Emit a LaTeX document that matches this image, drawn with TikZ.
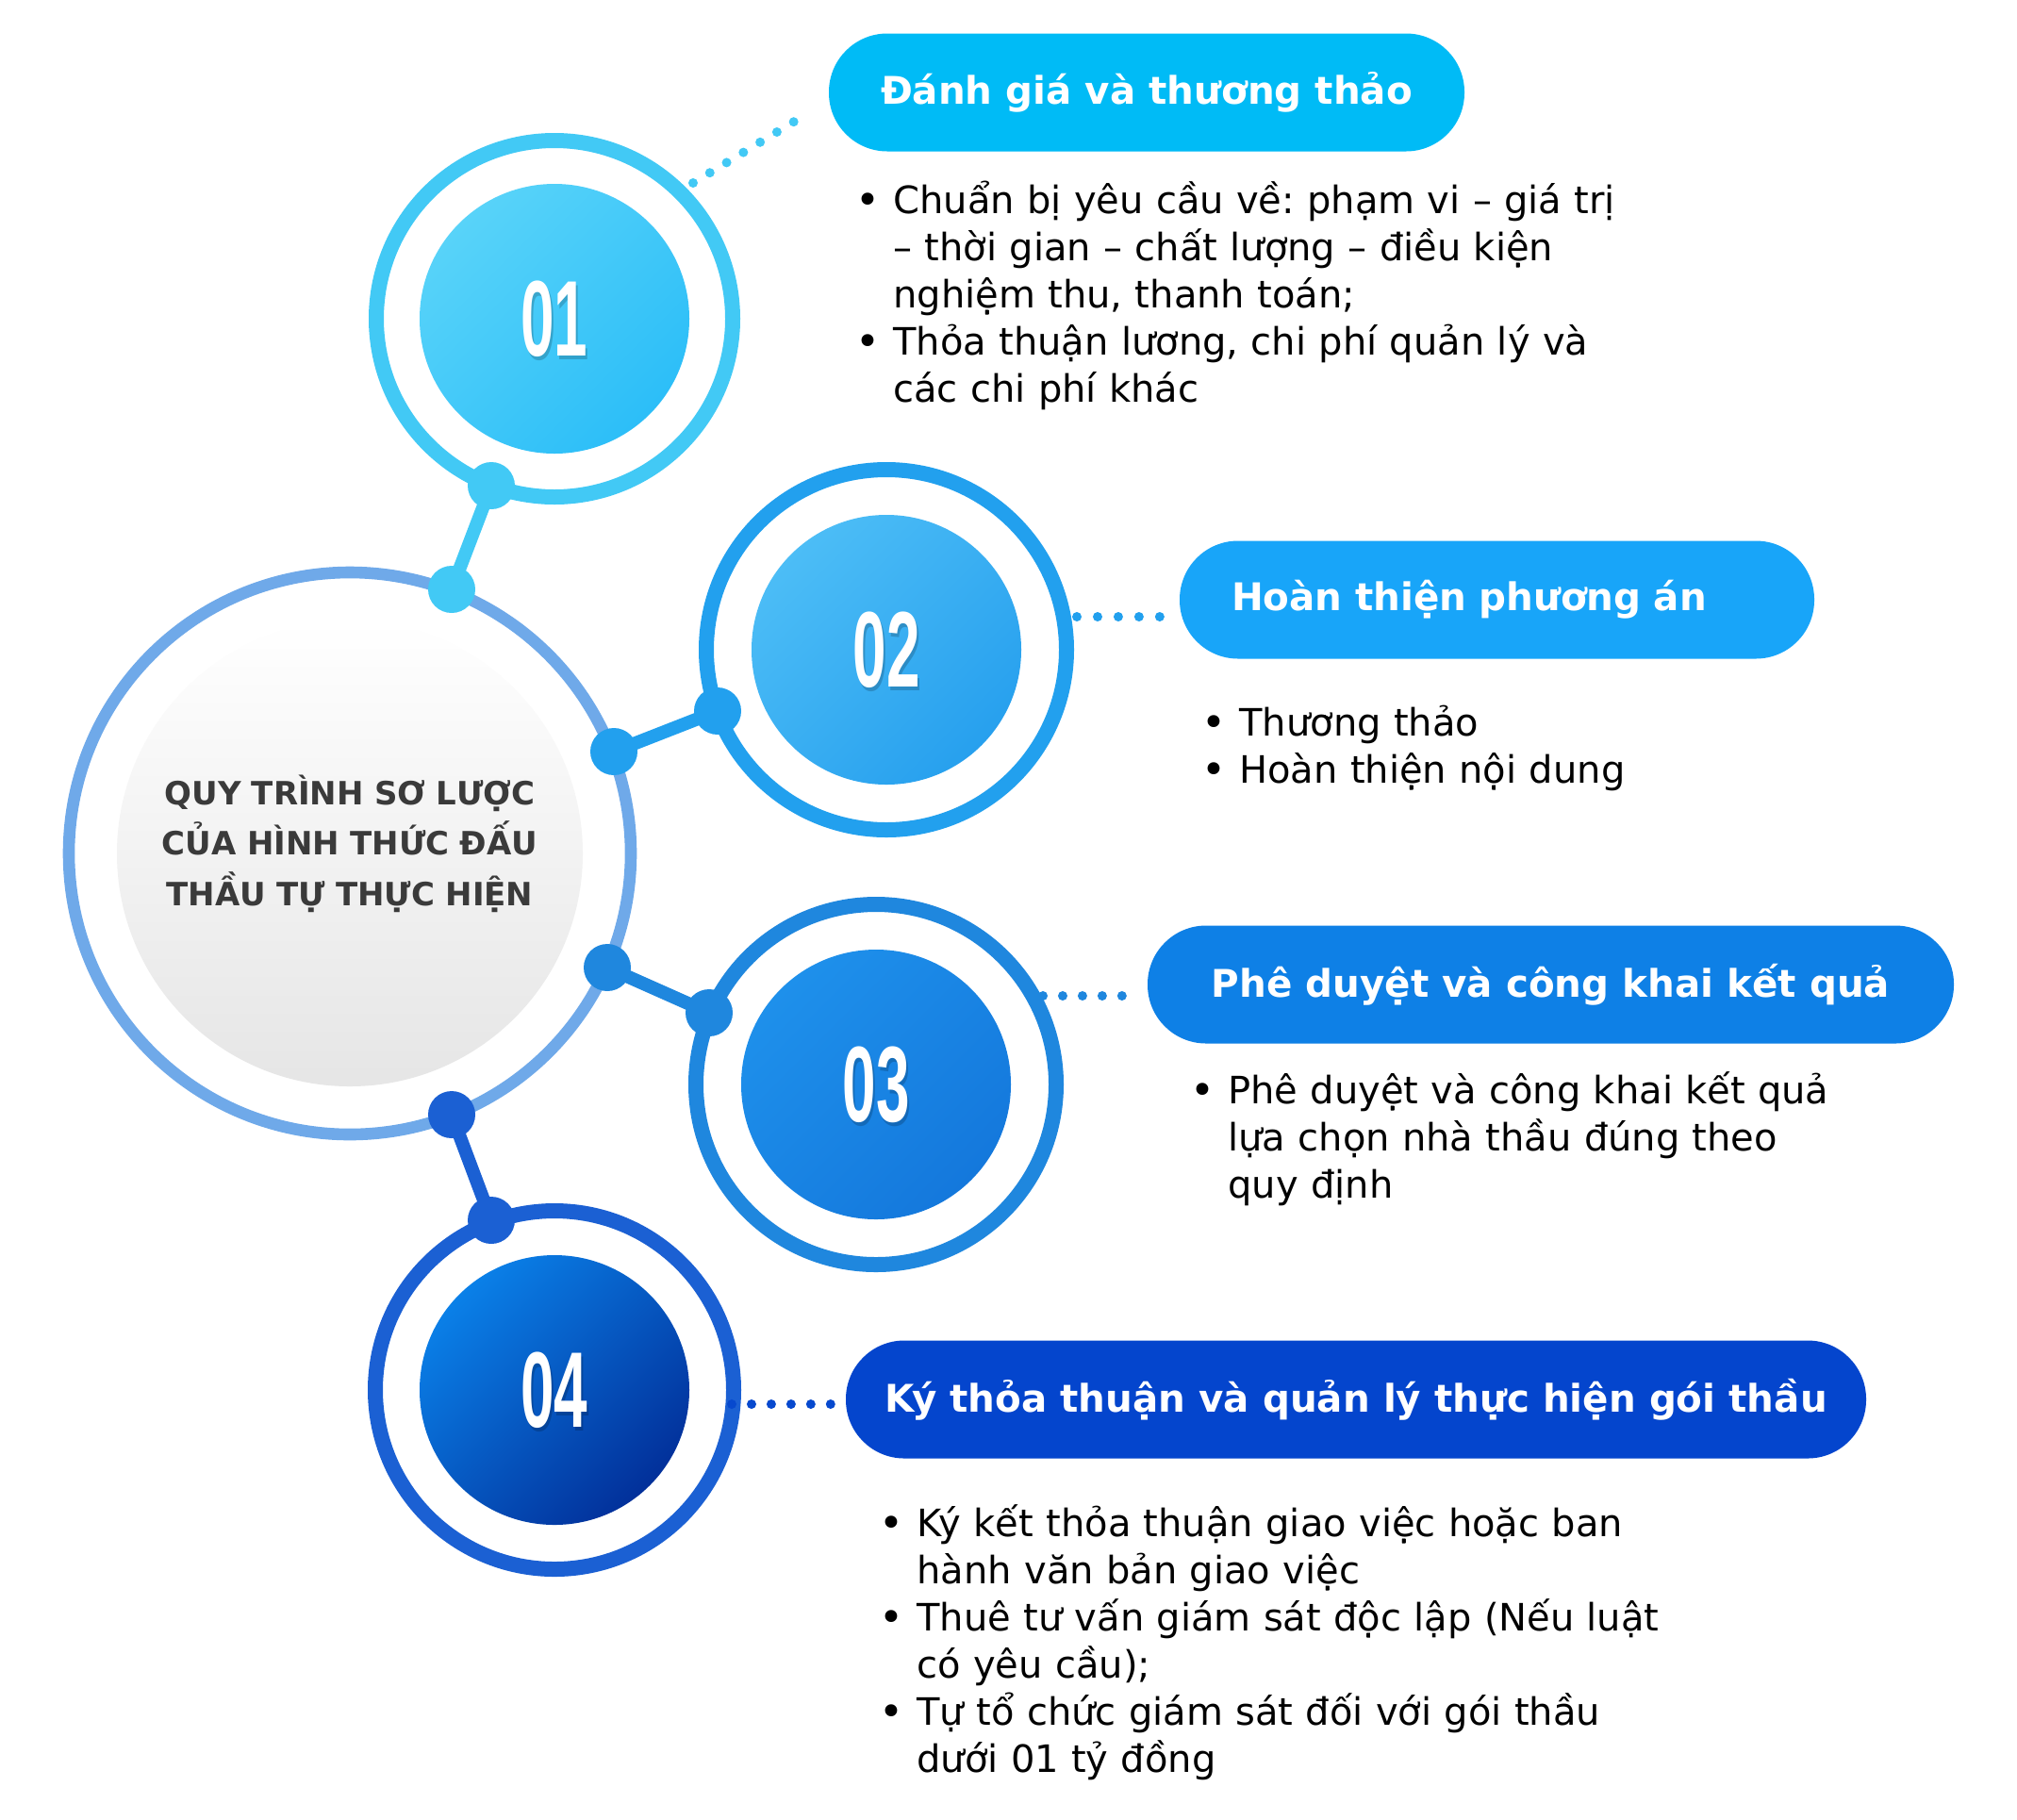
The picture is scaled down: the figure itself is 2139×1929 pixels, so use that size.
\documentclass[tikz,border=0pt]{standalone}
\usepackage{fontspec}
\usepackage{graphicx}
\setmainfont{DejaVu Sans}
\newfontfamily\numfont{Liberation Sans}[FakeStretch=0.56]
\usetikzlibrary{positioning}
\definecolor{ringA}{HTML}{42C9F5}
\definecolor{ringB}{HTML}{22A0EE}
\definecolor{ringC}{HTML}{1F87DE}
\definecolor{ringD}{HTML}{1B60D3}
\definecolor{ringM}{HTML}{6FA9E9}
\definecolor{pillA}{HTML}{00BBF6}
\definecolor{pillB}{HTML}{18A5F9}
\definecolor{pillC}{HTML}{0E80E6}
\definecolor{pillD}{HTML}{0445CD}
\definecolor{diskAl}{HTML}{58D3F9}
\definecolor{diskAd}{HTML}{2CBEF8}
\definecolor{diskBl}{HTML}{4CBDF6}
\definecolor{diskBd}{HTML}{27A0EE}
\definecolor{diskCl}{HTML}{1E90EB}
\definecolor{diskCd}{HTML}{1478DC}
\definecolor{diskDl}{HTML}{0A80E8}
\definecolor{diskDd}{HTML}{02309A}
\definecolor{midtext}{HTML}{3A3A3A}
\newcommand\bul{\makebox[20pt][l]{\raisebox{-0.03em}{\scalebox{1.1}{•}}}}
\newcommand\ind{\hspace*{20pt}}
\frenchspacing
\begin{document}
\begin{tikzpicture}[x=0.5pt,y=-0.5pt,
    ring/.style={line width=8pt},
    joint/.style={line width=7pt},
    dotline/.style={line width=5pt,line cap=round},
    pill/.style={rounded corners=31pt,minimum height=62.5pt,inner sep=0pt,text=white,font=\fontsize{20.2pt}{24pt}\selectfont\bfseries},
    num/.style={inner sep=0pt,font=\numfont\bfseries\fontsize{57pt}{57pt}\selectfont},
    body/.style={anchor=base west,inner sep=0pt,text width=520pt,align=left,font=\fontsize{20pt}{25pt}\selectfont}]
    \useasboundingbox (0,0) rectangle (2139,1929);
    \fill[white] (0,0) rectangle (2139,1929);
    % centre circle
    \coordinate (m) at (371,905);
    \shade[top color=white,bottom color=gray!20] (m) circle[radius=247];
    \draw[ringM,line width=6.3pt] (m) circle[radius=298];
    \node[inner sep=0pt,text width=300pt,align=center,anchor=base,text=midtext,font=\fontsize{17pt}{26.75pt}\selectfont\bfseries] (title) at (371,853) {QUY TRÌNH SƠ LƯỢC\\CỦA HÌNH THỨC ĐẤU\\THẦU TỰ THỰC HIỆN};
    % step circles
    \coordinate (s1) at (588,338);
    \coordinate (s2) at (940,689);
    \coordinate (s3) at (929,1150);
    \coordinate (s4) at (588,1474);
    \draw[ring,ringA] (s1) circle[radius=189];
    \draw[ring,ringB] (s2) circle[radius=191];
    \draw[ring,ringC] (s3) circle[radius=191];
    \draw[ring,ringD] (s4) circle[radius=190];
    \shade[top color=diskAl,bottom color=diskAd,shading angle=45] (s1) circle[radius=143];
    \shade[top color=diskBl,bottom color=diskBd,shading angle=45] (s2) circle[radius=143];
    \shade[top color=diskCl,bottom color=diskCd,shading angle=45] (s3) circle[radius=143];
    \shade[top color=diskDl,bottom color=diskDd,shading angle=45] (s4) circle[radius=143];
    % joints to the centre
    \coordinate (j1a) at (521,515);
    \coordinate (j1b) at (479,625);
    \coordinate (j2a) at (761,754);
    \coordinate (j2b) at (651,797);
    \coordinate (j3a) at (752,1074);
    \coordinate (j3b) at (644,1026);
    \coordinate (j4a) at (521,1294);
    \coordinate (j4b) at (479,1182);
    \draw[joint,ringA] (j1a) -- (j1b);
    \draw[joint,ringB] (j2a) -- (j2b);
    \draw[joint,ringC] (j3a) -- (j3b);
    \draw[joint,ringD] (j4a) -- (j4b);
    \fill[ringA] (j1a) circle[radius=25] (j1b) circle[radius=25];
    \fill[ringB] (j2a) circle[radius=25] (j2b) circle[radius=25];
    \fill[ringC] (j3a) circle[radius=25] (j3b) circle[radius=25];
    \fill[ringD] (j4a) circle[radius=25] (j4b) circle[radius=25];
    % numbers
    \node[num,text=black,opacity=0.18,xshift=1pt,yshift=-2pt] (n1s) at (s1) {01};
    \node[num,text=black,opacity=0.18,xshift=1pt,yshift=-2pt] (n2s) at (s2) {02};
    \node[num,text=black,opacity=0.18,xshift=1pt,yshift=-2pt] (n3s) at (s3) {03};
    \node[num,text=black,opacity=0.18,xshift=1pt,yshift=-2pt] (n4s) at (s4) {04};
    \node[num,text=white] (n1) at (s1) {01};
    \node[num,text=white] (n2) at (s2) {02};
    \node[num,text=white] (n3) at (s3) {03};
    \node[num,text=white] (n4) at (s4) {04};
    % dotted leads
    \coordinate (d1a) at (735,194);
    \coordinate (d1b) at (842,129);
    \coordinate (d2a) at (1142,654);
    \coordinate (d2b) at (1230,654);
    \coordinate (d3a) at (1106,1056);
    \coordinate (d3b) at (1190,1056);
    \coordinate (d4a) at (776,1489);
    \coordinate (d4b) at (881,1489);
    \draw[dotline,ringA,dash pattern=on 0pt off 10.4pt] (d1a) -- (d1b);
    \draw[dotline,ringB,dash pattern=on 0pt off 10.98pt] (d2a) -- (d2b);
    \draw[dotline,ringC,dash pattern=on 0pt off 10.48pt] (d3a) -- (d3b);
    \draw[dotline,pillD!85!ringD,dash pattern=on 0pt off 10.48pt] (d4a) -- (d4b);
    % pills
    \node[pill,fill=pillA,minimum width=337pt] (p1) at (1216,98) {Đánh giá và thương thảo};
    \node[pill,fill=pillB,text width=281.5pt,inner xsep=27.5pt,align=left] (p2) at (1587.5,636) {Hoàn thiện phương án};
    \node[pill,fill=pillC,minimum width=427.5pt] (p3) at (1644.5,1044) {Phê duyệt và công khai kết quả};
    \node[pill,fill=pillD,minimum width=541pt] (p4) at (1438,1484) {Ký thỏa thuận và quản lý thực hiện gói thầu};
    % bullet texts
    \node[body] (b1) at (907,226) {\bul Chuẩn bị yêu cầu về: phạm vi – giá trị\\\ind – thời gian – chất lượng – điều kiện\\\ind nghiệm thu, thanh toán;\\\bul Thỏa thuận lương, chi phí quản lý và\\\ind các chi phí khác};
    \node[body] (b2) at (1274,780) {\bul Thương thảo\\\bul Hoàn thiện nội dung};
    \node[body] (b3) at (1262,1170) {\bul Phê duyệt và công khai kết quả\\\ind lựa chọn nhà thầu đúng theo\\\ind quy định};
    \node[body] (b4) at (932,1629) {\bul Ký kết thỏa thuận giao việc hoặc ban\\\ind hành văn bản giao việc\\\bul Thuê tư vấn giám sát độc lập (Nếu luật\\\ind có yêu cầu);\\\bul Tự tổ chức giám sát đối với gói thầu\\\ind dưới 01 tỷ đồng};
\end{tikzpicture}
\end{document}
